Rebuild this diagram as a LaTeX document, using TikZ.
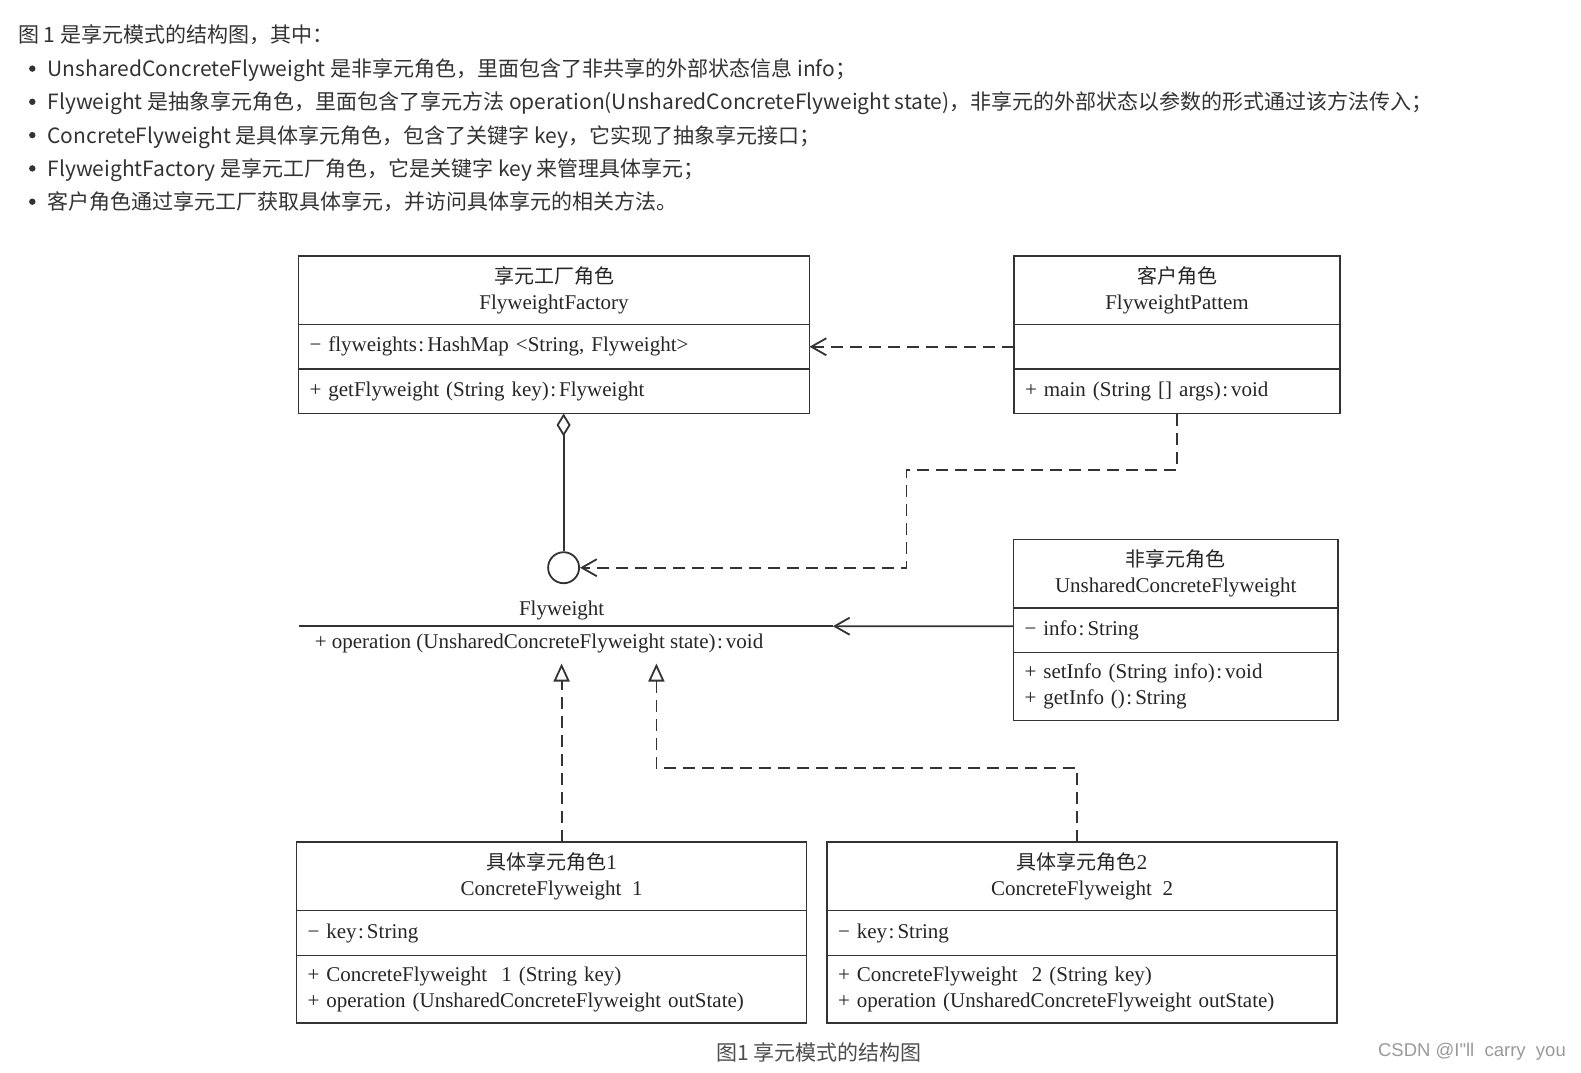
\documentclass[tikz,border=0pt]{standalone}
\usepackage{fontspec}
\setmainfont{Liberation Serif}
\newfontfamily\cjk{Noto Sans CJK SC}
\newfontfamily\wmfont{Liberation Sans}
\usetikzlibrary{positioning,arrows.meta}

\definecolor{ink}{HTML}{333333}
\definecolor{umlink}{HTML}{262626}
\definecolor{umlline}{HTML}{333333}
\definecolor{capgray}{HTML}{4D4D4D}
\definecolor{wmgray}{HTML}{9A9A9A}

\newcommand\umlfont{\fontsize{21}{26}\selectfont}
\newcommand\topfont{\cjk\fontsize{21}{26}\selectfont}
\newcommand\zh[1]{{\cjk\fontsize{20}{26}\selectfont #1}}
\newcommand\cl{\kern1.5pt:\kern3pt}

\tikzset{
  umltitle/.style={draw=umlline, line width=1.8pt, outer sep=0pt, inner sep=0pt,
    minimum height=68.5pt, align=center, font=\umlfont, text=umlink},
  umlpart/.style={draw=umlline, line width=1.8pt, outer sep=0pt, inner xsep=11pt,
    inner ysep=0pt, align=left, font=\umlfont, text=umlink},
  topline/.style={anchor=base west, inner sep=0pt, font=\topfont, text=ink},
  dep/.style={draw=umlline, line width=1.8pt, dash pattern=on 12pt off 7pt,
    -{Straight Barb[length=15pt,width=17pt]}},
  assoc/.style={draw=umlline, line width=1.8pt, -{Straight Barb[length=15pt,width=17pt]}},
  realize/.style={draw=umlline, line width=1.8pt, dash pattern=on 12pt off 7pt,
    -{Triangle[open,length=18pt,width=16pt]}},
  aggr/.style={draw=umlline, line width=1.8pt, {Diamond[open,length=23pt,width=14pt]}-},
}

\begin{document}
\begin{tikzpicture}[x=1pt,y=-1pt]
\useasboundingbox (0,0) rectangle (1581,1072);
\fill[white] (0,0) rectangle (1581,1072);

% text above the diagram
\node[topline] (intro) at (18.1,42.3) {图 1 是享元模式的结构图，其中：};
\foreach \yy in {68.6,101.8,135.1,168.4,201.7}
  \fill[ink] (32.3,\yy) circle (3.2);
\node[topline] (itemA) at (47.4,76.6) {UnsharedConcreteFlyweight 是非享元角色，里面包含了非共享的外部状态信息 info；};
\node[topline] (itemB) at (47.4,109.8) {Flyweight 是抽象享元角色，里面包含了享元方法 operation(UnsharedConcreteFlyweight state)，非享元的外部状态以参数的形式通过该方法传入；};
\node[topline] (itemC) at (47.4,143.1) {ConcreteFlyweight 是具体享元角色，包含了关键字 key，它实现了抽象享元接口；};
\node[topline] (itemD) at (47.4,176.4) {FlyweightFactory 是享元工厂角色，它是关键字 key 来管理具体享元；};
\node[topline] (itemE) at (47.4,209.7) {客户角色通过享元工厂获取具体享元，并访问具体享元的相关方法。};

% factory
\node[umltitle, minimum width=511pt, anchor=north west] (fac) at (298.5,256) {\zh{享元工厂角色}\\FlyweightFactory};
\node[umlpart, text width=489pt, minimum height=44.5pt, below=0pt of fac] (facA) {− flyweights\cl HashMap <String, Flyweight>};
\node[umlpart, text width=489pt, minimum height=44.5pt, below=0pt of facA] (facM) {+ getFlyweight (String key)\cl Flyweight};

% client
\node[umltitle, minimum width=326pt, anchor=north west] (cli) at (1014,256) {\zh{客户角色}\\FlyweightPattem};
\node[umlpart, text width=304pt, minimum height=44.5pt, below=0pt of cli] (cliA) {};
\node[umlpart, text width=304pt, minimum height=44.5pt, below=0pt of cliA] (cliM) {+ main (String [] args)\cl void};

% unshared flyweight
\node[umltitle, minimum width=324.5pt, anchor=north west] (uns) at (1013.5,539.5) {\zh{非享元角色}\\UnsharedConcreteFlyweight};
\node[umlpart, text width=302.5pt, minimum height=44.5pt, below=0pt of uns] (unsA) {− info\cl String};
\node[umlpart, text width=302.5pt, minimum height=68pt, below=0pt of unsA] (unsM) {+ setInfo (String info)\cl void\\+ getInfo ()\cl String};

% concrete flyweights
\node[umltitle, minimum width=510pt, anchor=north west] (con1) at (296.5,842) {\zh{具体享元角色}1\\ConcreteFlyweight\ \ 1};
\node[umlpart, text width=488pt, minimum height=45pt, below=0pt of con1] (con1A) {− key\cl String};
\node[umlpart, text width=488pt, minimum height=67.5pt, below=0pt of con1A] (con1M) {+ ConcreteFlyweight\ \ 1 (String key)\\+ operation (UnsharedConcreteFlyweight outState)};

\node[umltitle, minimum width=510pt, anchor=north west] (con2) at (827,842) {\zh{具体享元角色}2\\ConcreteFlyweight\ \ 2};
\node[umlpart, text width=488pt, minimum height=45pt, below=0pt of con2] (con2A) {− key\cl String};
\node[umlpart, text width=488pt, minimum height=67.5pt, below=0pt of con2A] (con2M) {+ ConcreteFlyweight\ \ 2 (String key)\\+ operation (UnsharedConcreteFlyweight outState)};

% flyweight interface
\node[circle, draw=umlline, line width=1.8pt, minimum size=31pt, inner sep=0pt] (fw) at (563.6,567.7) {};
\node[font=\umlfont, text=umlink, inner sep=0pt] (fwName) at (561.6,610) {Flyweight};
\coordinate (fwL) at (298.5,626.2);
\coordinate (fwR) at (832.8,626.2);
\draw[umlline, line width=1.8pt] (fwL) -- (fwR);
\node[font=\umlfont, text=umlink, anchor=west, inner sep=0pt] (fwOp) at (314.6,643.3) {+ operation (UnsharedConcreteFlyweight state)\cl void};

% connectors
\coordinate (turnA) at (906.5,469.9);
\coordinate (tipA) at (561.6,663.5);
\coordinate (tipB) at (656.4,663.5);
\coordinate (turnB) at (1076.9,768.3);
\draw[dep] (cliA.west) -- (facA.east);
\draw[aggr] (facM.south -| fw.north) -- (fw.north);
\draw[dep] (cliM.south) |- (turnA) |- (fw.east);
\draw[assoc] ([yshift=4pt]unsA.west) -- (fwR);
\draw[realize] (con1.north -| tipA) -- (tipA);
\draw[realize] (con2.north -| turnB) -- (turnB) -| (tipB);

% caption and watermark
\node[font=\cjk\fontsize{21}{26}\selectfont, text=capgray, inner sep=0pt] (caption) at (818.7,1052.7) {图1 享元模式的结构图};
\node[font=\wmfont\fontsize{18.5}{22}\selectfont, text=wmgray, anchor=east, inner sep=0pt] (mark) at (1566,1051.6) {CSDN @I"ll\ \ carry\ \ you};
\end{tikzpicture}
\end{document}
